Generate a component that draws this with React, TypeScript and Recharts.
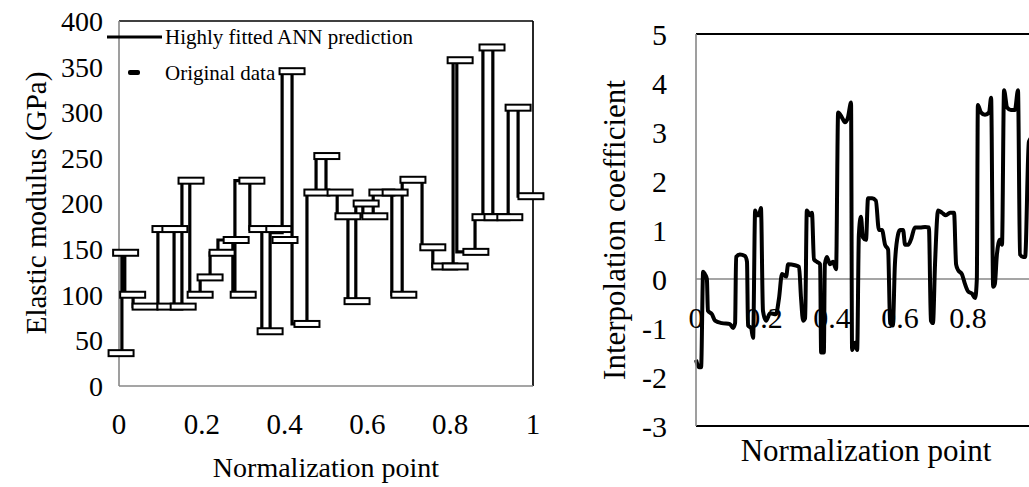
import React from 'react';
import {
  ComposedChart,
  LineChart,
  Line,
  Scatter,
  XAxis,
  YAxis,
  ReferenceLine,
  Legend,
} from 'recharts';

const FONT = '"Liberation Serif", "Times New Roman", serif';

// ---- left panel: elastic modulus vs normalization point ----
// ANN prediction, step function: level annY[i] starts at annX[i]
const annX = [
  0, 0.007, 0.014, 0.034, 0.094, 0.133, 0.152, 0.171, 0.196, 0.22, 0.239, 0.275, 0.28,
  0.316, 0.345, 0.365, 0.394, 0.418, 0.454, 0.476, 0.5, 0.527, 0.553, 0.572, 0.589, 0.614,
  0.659, 0.684, 0.732, 0.758, 0.807, 0.816, 0.86, 0.879, 0.903, 0.94, 0.964, 1,
];
const annY = [
  36, 146, 100, 87, 172, 87, 225, 100, 119, 146, 160, 100, 225, 172, 60, 168, 345, 68, 212,
  252, 212, 186, 93, 200, 186, 212, 100, 226, 152, 131, 357, 147, 185, 371, 185, 305, 208, 208,
];

// original data points (dash markers)
const origX = [
  0.005, 0.016, 0.033, 0.063, 0.111, 0.123, 0.135, 0.155, 0.174, 0.196, 0.22, 0.249, 0.283,
  0.3, 0.321, 0.345, 0.365, 0.386, 0.401, 0.418, 0.454, 0.478, 0.502, 0.534, 0.553, 0.575,
  0.597, 0.618, 0.635, 0.667, 0.688, 0.71, 0.758, 0.787, 0.812, 0.824, 0.862, 0.884, 0.901,
  0.913, 0.944, 0.964, 0.995,
];
const origY = [
  36, 146, 100, 87, 172, 87, 172, 87, 225, 100, 119, 146, 160, 100, 225, 172, 60, 172, 160,
  345, 68, 212, 252, 212, 186, 93, 200, 186, 212, 212, 100, 226, 152, 131, 131, 357, 147,
  185, 371, 185, 185, 305, 208,
];

const leftXTicks = [0, 0.2, 0.4, 0.6, 0.8, 1];
const leftYTicks = [0, 50, 100, 150, 200, 250, 300, 350, 400];

// ---- right panel: interpolation coefficient ----
const coefX = [
  0, 0.009, 0.015, 0.021, 0.026, 0.032, 0.035, 0.047, 0.056, 0.076, 0.1, 0.109, 0.115, 0.118,
  0.129, 0.144, 0.15, 0.153, 0.162, 0.168, 0.174, 0.179, 0.185, 0.191, 0.197, 0.206, 0.218,
  0.235, 0.244, 0.253, 0.265, 0.271, 0.291, 0.303, 0.309, 0.315, 0.321, 0.326, 0.335, 0.341,
  0.347, 0.356, 0.365, 0.368, 0.376, 0.379, 0.385, 0.394, 0.403, 0.412, 0.418, 0.429, 0.438,
  0.447, 0.456, 0.459, 0.468, 0.474, 0.479, 0.485, 0.491, 0.5, 0.506, 0.518, 0.529, 0.538,
  0.547, 0.556, 0.565, 0.571, 0.579, 0.585, 0.594, 0.6, 0.609, 0.615, 0.624, 0.632, 0.644,
  0.659, 0.674, 0.685, 0.691, 0.697, 0.703, 0.712, 0.724, 0.735, 0.747, 0.759, 0.765, 0.771,
  0.782, 0.791, 0.8, 0.812, 0.821, 0.826, 0.829, 0.838, 0.85, 0.862, 0.868, 0.874, 0.879,
  0.885, 0.894, 0.9, 0.906, 0.915, 0.926, 0.938, 0.947, 0.953, 0.962, 0.968, 0.979, 0.991, 1,
];
const coefY = [
  -1.65, -1.8, -1.8, 0.15, 0.1, 0.0, -0.65, -0.72, -0.85, -0.9, -0.92, -1.0, -0.9, 0.45, 0.5,
  0.47, 0.35, -0.95, -1.0, -1.2, 1.4, 1.3, 1.3, 1.45, -0.65, -0.85, -0.7, -0.72, -0.4, 0.1,
  0.05, 0.3, 0.28, 0.25, -0.4, -0.85, -0.8, 1.4, 1.3, 1.35, 0.4, 0.35, 0.3, -1.5, -1.5, 0.3,
  0.45, 0.3, 0.35, 0.2, 3.4, 3.3, 3.2, 3.3, 3.6, -1.45, -1.3, -1.45, 0.9, 1.27, 0.85, 0.8,
  1.65, 1.65, 1.6, 1.0, 1.0, 0.7, 0.6, -0.9, -0.95, 0.3, 0.9, 1.0, 1.0, 0.7, 0.7, 0.8, 1.05,
  1.05, 1.06, 1.05, -0.85, -0.9, 0.3, 1.4, 1.35, 1.3, 1.35, 1.35, 0.3, 0.18, 0.1, -0.1,
  -0.25, -0.3, -0.39, 0.0, 3.55, 3.4, 3.35, 3.4, 3.7, -0.16, -0.1, 0.5, 0.8, 0.7, 3.85, 3.5,
  3.45, 3.45, 3.85, 0.5, 0.45, 0.45, 2.8, 2.9, 2.8,
];

// the tick at 1 falls past the right edge of the page, as in the original
const rightXTicks = [0, 0.2, 0.4, 0.6, 0.8];
const rightYTicks = [-3, -2, -1, 0, 1, 2, 3, 4, 5];

const annData = annX.map((x, i) => ({ x, y: annY[i] }));
const origData = origX.map((x, i) => ({ x, y: origY[i] }));
const coefData = coefX.map((x, i) => ({ x, y: coefY[i] }));

// right plot geometry (used to put x tick labels next to the zero line)
const R_TOP = 34;
const R_HEIGHT = 392;
const R_ZERO_Y = R_TOP + (R_HEIGHT * 5) / 8;

const GRAY = '#878787';

const DashMarker = (props: any) => {
  const { cx, cy } = props;
  if (cx == null || cy == null) return null;
  return (
    <rect x={cx - 12.5} y={cy - 3} width={25} height={6} fill="#fff" stroke="#000" strokeWidth={2} />
  );
};

const LeftLegend = () => (
  <svg width={340} height={60} style={{ overflow: 'visible', display: 'block' }}>
    <line x1={0} y1={10} x2={55} y2={10} stroke="#000" strokeWidth={3} />
    <text x={58} y={10} dy="0.35em" fontSize={21} fontFamily={FONT} fill="#000">
      Highly fitted ANN prediction
    </text>
    <rect x={21} y={43} width={12} height={5} rx={2} fill="#000" />
    <text x={58} y={46} dy="0.35em" fontSize={21} fontFamily={FONT} fill="#000">
      Original data
    </text>
  </svg>
);

const ZeroTick = (props: any) => {
  const { x, payload } = props;
  return (
    <text x={x} y={R_ZERO_Y + 38} dy="0.35em" textAnchor="middle" fontSize={30} fontFamily={FONT} fill="#000">
      {String(payload.value)}
    </text>
  );
};

export default function App() {
  return (
    <div style={{ position: 'absolute', left: 0, top: 0, width: 1029, height: 487, background: '#fff', overflow: 'hidden' }}>
      <div style={{ position: 'absolute', left: 0, top: 0 }}>
        <ComposedChart width={560} height={487} margin={{ top: 21, right: 27, bottom: 0, left: 0 }}>
          <XAxis
            dataKey="x"
            type="number"
            domain={[0, 1]}
            ticks={leftXTicks}
            interval={0}
            height={101}
            axisLine={{ stroke: GRAY, strokeWidth: 1.6 }}
            tickLine={false}
            tickSize={0}
            tickMargin={27}
            tick={{ fill: '#000', fontSize: 29, fontFamily: FONT }}
            label={{
              content: () => (
                <text x={326} y={467} dy="0.35em" textAnchor="middle" fontSize={28} fontFamily={FONT} fill="#000">
                  Normalization point
                </text>
              ),
            }}
          />
          <YAxis
            dataKey="y"
            type="number"
            domain={[0, 400]}
            ticks={leftYTicks}
            interval={0}
            width={119}
            axisLine={{ stroke: GRAY, strokeWidth: 1.6 }}
            tickLine={false}
            tickSize={0}
            tickMargin={16}
            tick={{ fill: '#000', fontSize: 28, fontFamily: FONT }}
            label={{
              content: () => (
                <text x={36} y={203} dy="0.35em" transform="rotate(-90 36 203)" textAnchor="middle" fontSize={29} fontFamily={FONT} fill="#000">
                  Elastic modulus (GPa)
                </text>
              ),
            }}
          />
          <ReferenceLine y={400} stroke="#000" strokeWidth={1.7} />
          <ReferenceLine x={1} stroke="#000" strokeWidth={1.7} />
          <Scatter data={origData} shape={DashMarker} isAnimationActive={false} />
          <Line
            data={annData}
            dataKey="y"
            type="stepAfter"
            stroke="#000"
            strokeWidth={3.2}
            dot={false}
            isAnimationActive={false}
          />
          <Legend
            layout="vertical"
            align="center"
            verticalAlign="middle"
            content={LeftLegend}
            wrapperStyle={{ left: 107, top: 27, width: 340, height: 60 }}
          />
        </ComposedChart>
      </div>
      <div style={{ position: 'absolute', left: 560, top: 0, width: 469, height: 487, overflow: 'hidden' }}>
        <LineChart width={476} height={487} data={coefData} margin={{ top: R_TOP, right: 0, bottom: 0, left: 0 }}>
          <XAxis
            dataKey="x"
            type="number"
            domain={[0, 1]}
            ticks={rightXTicks}
            interval={0}
            height={61}
            axisLine={{ stroke: '#000', strokeWidth: 1.8 }}
            tickLine={false}
            tick={ZeroTick}
            label={{
              content: () => (
                <text x={306} y={450} dy="0.35em" textAnchor="middle" fontSize={31} fontFamily={FONT} fill="#000">
                  Normalization point
                </text>
              ),
            }}
          />
          <YAxis
            type="number"
            domain={[-3, 5]}
            ticks={rightYTicks}
            interval={0}
            width={136}
            axisLine={{ stroke: GRAY, strokeWidth: 1.6 }}
            tickLine={false}
            tickSize={0}
            tickMargin={29}
            tick={{ fill: '#000', fontSize: 30, fontFamily: FONT }}
            label={{
              content: () => (
                <text x={54} y={230} dy="0.35em" transform="rotate(-90 54 230)" textAnchor="middle" fontSize={31} fontFamily={FONT} fill="#000">
                  Interpolation coefficient
                </text>
              ),
            }}
          />
          <ReferenceLine y={0} stroke={GRAY} strokeWidth={1.6} />
          <ReferenceLine y={5} stroke="#000" strokeWidth={1.8} />
          <Line
            dataKey="y"
            type="monotoneX"
            stroke="#000"
            strokeWidth={4}
            strokeLinejoin="round"
            dot={false}
            isAnimationActive={false}
          />
        </LineChart>
      </div>
    </div>
  );
}
